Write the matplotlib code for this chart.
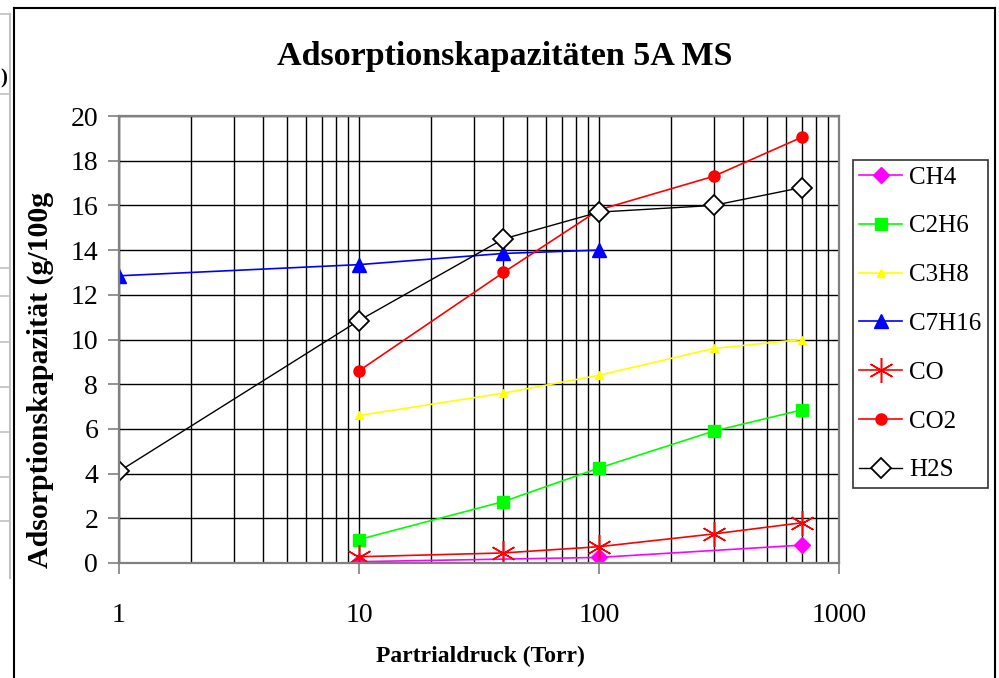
import matplotlib
matplotlib.use('Agg')
import matplotlib.pyplot as plt
from matplotlib.lines import Line2D
from matplotlib.ticker import FixedLocator, LogLocator, NullFormatter

plt.rcParams['font.family'] = ['Liberation Serif', 'DejaVu Serif']

# data (x = partial pressure in Torr)
ch4_x = [10, 100, 700]
ch4_y = [0.06, 0.25, 0.8]
c2h6_x = [10, 40, 100, 300, 700]
c2h6_y = [1.05, 2.75, 4.25, 5.9, 6.85]
c3h8_x = [10, 40, 100, 300, 700]
c3h8_y = [6.6, 7.6, 8.4, 9.6, 10.0]
c7h16_x = [1, 10, 40, 100]
c7h16_y = [12.85, 13.35, 13.85, 14.0]
co_x = [10, 40, 100, 300, 700]
co_y = [0.28, 0.45, 0.73, 1.3, 1.8]
co2_x = [10, 40, 100, 300, 700]
co2_y = [8.6, 13.0, 15.8, 17.3, 19.05]
h2s_x = [1, 10, 40, 100, 300, 700]
h2s_y = [4.1, 10.85, 14.5, 15.7, 16.0, 16.8]

x_ticks = [1, 10, 100, 1000]
x_tick_labels = ["1", "10", "100", "1000"]
y_ticks = list(range(0, 21, 2))

W, H = 999, 678
fig = plt.figure(figsize=(W / 100, H / 100), dpi=100)


def fx(px):
    return px / W


def fy(py):
    return 1 - py / H


# leftover spreadsheet cells on the left edge
cell_gray = "#c0c0c0"
fig.add_artist(Line2D([fx(10), fx(10)], [fy(14), fy(578)], color=cell_gray, lw=1.5))
for yy in [14, 94, 268, 296, 342, 387, 432, 477, 521]:
    fig.add_artist(Line2D([0, fx(10)], [fy(yy), fy(yy)], color=cell_gray, lw=1.2))
fig.text(fx(0), fy(78), ")", fontsize=15, fontweight="bold", va="center", ha="left")

# chart area border
fig.add_artist(Line2D([fx(14), fx(14)], [0, fy(8)], color="black", lw=1.5))
fig.add_artist(Line2D([fx(14), fx(995)], [fy(8), fy(8)], color="black", lw=1.5))
fig.add_artist(Line2D([fx(995), fx(995)], [fy(8), 0], color="black", lw=1.5))

ax = fig.add_axes([fx(119), fy(563), fx(839) - fx(119), (563 - 116) / H])

ax.plot(ch4_x, ch4_y, color="#FF00FF", lw=1.2, marker="D", ms=8, label="CH4")
ax.plot(c2h6_x, c2h6_y, color="#00FF00", lw=1.2, marker="s", ms=8, label="C2H6")
ax.plot(c3h8_x, c3h8_y, color="#FFFF00", lw=1.2, marker="^", ms=6, label="C3H8")
ax.plot(c7h16_x, c7h16_y, color="#0000FF", lw=1.2, marker="^", ms=10, label="C7H16")
ax.plot(co_x, co_y, color="#FF0000", lw=1.2, marker=(6, 2, 0), ms=18, mew=1.1, label="CO")
ax.plot(co2_x, co2_y, color="#FF0000", lw=1.2, marker="o", ms=8, label="CO2")
ax.plot(h2s_x, h2s_y, color="black", lw=1.0, marker="D", ms=10, mfc="white",
        mec="black", mew=1.3, label="H2S")

ax.set_xscale("log")
ax.set_xlim(1, 1000)
ax.set_ylim(0, 20)
ax.xaxis.set_major_locator(FixedLocator(x_ticks))
ax.set_xticklabels(x_tick_labels)
ax.xaxis.set_minor_locator(LogLocator(base=10, subs=range(2, 10)))
ax.xaxis.set_minor_formatter(NullFormatter())
ax.set_yticks(y_ticks)

ax.grid(True, which="major", axis="both", color="black", lw=1.0)
ax.grid(True, which="minor", axis="x", color="black", lw=1.0)
ax.set_axisbelow(True)
for spine in ax.spines.values():
    spine.set_color("#808080")
    spine.set_linewidth(1.6)

ax.tick_params(axis="x", which="major", direction="out", length=8, width=1.2,
               color="#808080", pad=21, labelsize=20)
ax.tick_params(axis="x", which="minor", length=0)
ax.tick_params(axis="y", direction="out", length=8, width=1.2,
               color="#808080", pad=7, labelsize=20)

fig.text(fx(505), fy(57), "Adsorptionskapazitäten 5A MS", fontsize=24.5,
         fontweight="bold", ha="center", va="center")
fig.text(fx(480), fy(656), "Partrialdruck (Torr)", fontsize=17,
         fontweight="bold", ha="center", va="center")
fig.text(fx(40), fy(380), "Adsorptionskapazität (g/100g", fontsize=21.5,
         fontweight="bold", ha="center", va="center", rotation=90)

leg = fig.legend(loc="upper left", bbox_to_anchor=(fx(853), fy(160)),
                 fontsize=18, frameon=True, fancybox=False, edgecolor="black",
                 labelspacing=1.05, handlelength=1.7, handletextpad=0.3,
                 borderpad=0.25, borderaxespad=0)
leg.get_frame().set_linewidth(1.2)

fig.savefig("out.png", dpi=100)
plt.close(fig)
